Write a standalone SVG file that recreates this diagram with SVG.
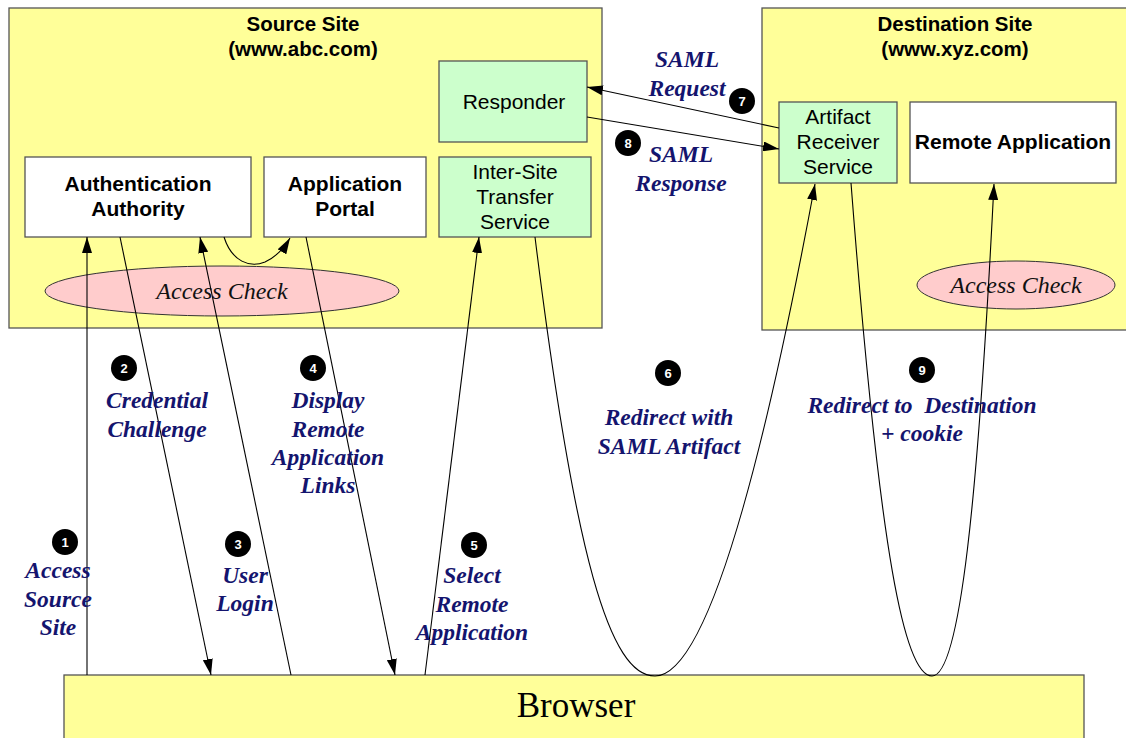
<svg xmlns="http://www.w3.org/2000/svg" width="1126" height="738" viewBox="0 0 1126 738">
<defs>
<style>
.site{fill:#FFFF99;stroke:#555;stroke-width:1.3}
.wbox{fill:#fff;stroke:#555;stroke-width:1.3}
.gbox{fill:#CCFFCC;stroke:#555;stroke-width:1.3}
.ell{fill:#FFCCCC;stroke:#333;stroke-width:1}
.title{font-family:"Liberation Sans",Arial,sans-serif;font-weight:bold;font-size:20.5px;fill:#000;text-anchor:middle}
.bt{font-family:"Liberation Sans",Arial,sans-serif;font-weight:bold;font-size:21px;fill:#000;text-anchor:middle}
.rt{font-family:"Liberation Sans",Arial,sans-serif;font-size:21px;fill:#000;text-anchor:middle}
.ac{font-family:"Liberation Serif","Times New Roman",serif;font-style:italic;font-size:24px;fill:#111;text-anchor:middle}
.lbl{font-family:"Liberation Serif","Times New Roman",serif;font-style:italic;font-weight:bold;font-size:23.5px;fill:#14146e;text-anchor:middle}
.num{font-family:"Liberation Sans",Arial,sans-serif;font-weight:bold;font-size:13px;fill:#fff;text-anchor:middle}
.con{fill:none;stroke:#000;stroke-width:1.1}
</style>
<marker id="ah" viewBox="0 0 16 10" refX="16" refY="5" markerWidth="16" markerHeight="10" markerUnits="userSpaceOnUse" orient="auto">
<path d="M0,0 L16,5 L0,10 Z" fill="#000"/>
</marker>
</defs>

<g id="source-site">
<rect class="site" x="9" y="8" width="593" height="320"/>
<text class="title" x="303" y="31">Source Site</text>
<text class="title" x="303" y="56">(www.abc.com)</text>
</g>
<g id="destination-site">
<rect class="site" x="762" y="8" width="370" height="322"/>
<text class="title" x="955" y="31">Destination Site</text>
<text class="title" x="955" y="56">(www.xyz.com)</text>
</g>
<g id="responder">
<rect class="gbox" x="439" y="61" width="148" height="81"/>
<text class="rt" x="514" y="109">Responder</text>
</g>
<g id="auth-authority">
<rect class="wbox" x="25" y="157" width="226" height="80"/>
<text class="bt" x="138" y="191">Authentication</text>
<text class="bt" x="138" y="216">Authority</text>
</g>
<g id="app-portal">
<rect class="wbox" x="264" y="157" width="162" height="80"/>
<text class="bt" x="345" y="191">Application</text>
<text class="bt" x="345" y="216">Portal</text>
</g>
<g id="inter-site">
<rect class="gbox" x="439" y="157" width="152" height="80"/>
<text class="rt" x="515" y="179">Inter-Site</text>
<text class="rt" x="515" y="204">Transfer</text>
<text class="rt" x="515" y="229">Service</text>
</g>
<g id="access-check-src">
<ellipse class="ell" cx="222" cy="291" rx="177" ry="25"/>
<text class="ac" x="222" y="299">Access Check</text>
</g>
<g id="artifact-receiver">
<rect class="gbox" x="779" y="102" width="118" height="81"/>
<text class="rt" x="838" y="124">Artifact</text>
<text class="rt" x="838" y="149">Receiver</text>
<text class="rt" x="838" y="174">Service</text>
</g>
<g id="remote-app">
<rect class="wbox" x="910" y="102" width="206" height="81"/>
<text class="bt" x="1013" y="149">Remote Application</text>
</g>
<g id="access-check-dst">
<ellipse class="ell" cx="1016" cy="285" rx="99" ry="24"/>
<text class="ac" x="1016" y="293">Access Check</text>
</g>
<g id="browser">
<rect class="site" x="64" y="675" width="1020" height="70"/>
<text x="576" y="717" style="font-family:'Liberation Serif','Times New Roman',serif;font-size:35px;fill:#000;text-anchor:middle">Browser</text>
</g>

<g id="connectors">
<path class="con" marker-end="url(#ah)" d="M87,675 L87,237"/>
<path class="con" marker-end="url(#ah)" d="M120,237 L211,675"/>
<path class="con" marker-end="url(#ah)" d="M291,675 L200,237"/>
<path class="con" marker-end="url(#ah)" d="M306,237 L395,675"/>
<path class="con" marker-end="url(#ah)" d="M425,675 L479,237"/>
<path class="con" marker-end="url(#ah)" d="M535,237 C575,560 610,676 655,676 C705,676 760,480 815,184"/>
<path class="con" marker-end="url(#ah)" d="M851,183 C880,560 905,676 932,676 C960,676 978,500 994,184"/>
<path class="con" marker-end="url(#ah)" d="M779,128 L587,87"/>
<path class="con" marker-end="url(#ah)" d="M587,117 L779,149"/>
<path class="con" marker-end="url(#ah)" d="M224,237 C232,262 250,268 265,262 C276,257 283,250 290,238"/>
</g>

<g id="badges">
<circle cx="65" cy="542" r="13"/><text class="num" x="65" y="547">1</text>
<circle cx="124" cy="368" r="13"/><text class="num" x="124" y="373">2</text>
<circle cx="238" cy="544" r="13"/><text class="num" x="238" y="549">3</text>
<circle cx="313" cy="368" r="13"/><text class="num" x="313" y="373">4</text>
<circle cx="474" cy="545" r="13"/><text class="num" x="474" y="550">5</text>
<circle cx="668" cy="373" r="13"/><text class="num" x="668" y="378">6</text>
<circle cx="742" cy="101" r="13"/><text class="num" x="742" y="106">7</text>
<circle cx="628" cy="143" r="13"/><text class="num" x="628" y="148">8</text>
<circle cx="922" cy="370" r="13"/><text class="num" x="922" y="375">9</text>
</g>

<g id="labels">
<text class="lbl" x="58" y="578">Access</text>
<text class="lbl" x="58" y="607">Source</text>
<text class="lbl" x="58" y="635">Site</text>
<text class="lbl" x="157" y="408">Credential</text>
<text class="lbl" x="157" y="437">Challenge</text>
<text class="lbl" x="245" y="583">User</text>
<text class="lbl" x="245" y="611">Login</text>
<text class="lbl" x="328" y="408">Display</text>
<text class="lbl" x="328" y="437">Remote</text>
<text class="lbl" x="328" y="465">Application</text>
<text class="lbl" x="328" y="493">Links</text>
<text class="lbl" x="472" y="583">Select</text>
<text class="lbl" x="472" y="612">Remote</text>
<text class="lbl" x="472" y="640">Application</text>
<text class="lbl" x="669" y="425">Redirect with</text>
<text class="lbl" x="669" y="454">SAML Artifact</text>
<text class="lbl" x="922" y="413" xml:space="preserve">Redirect to  Destination</text>
<text class="lbl" x="922" y="441">+ cookie</text>
<text class="lbl" x="687" y="67">SAML</text>
<text class="lbl" x="687" y="96">Request</text>
<text class="lbl" x="681" y="162">SAML</text>
<text class="lbl" x="681" y="191">Response</text>
</g>
</svg>
